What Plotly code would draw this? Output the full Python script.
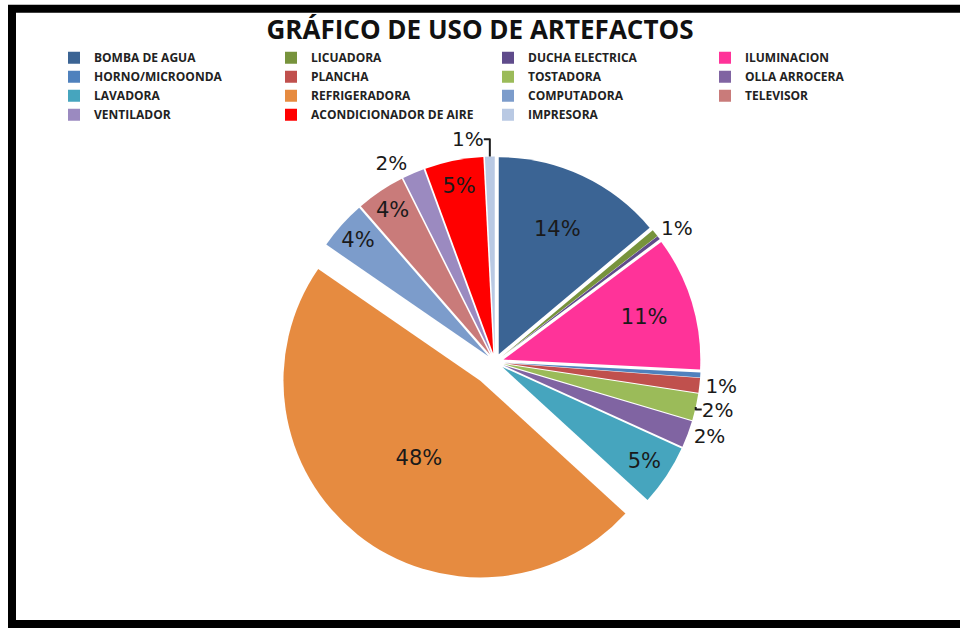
import plotly.graph_objects as go

# Appliance usage shares (percent of total consumption)
artefactos = [
    "BOMBA DE AGUA", "LICUADORA", "DUCHA ELECTRICA", "ILUMINACION",
    "HORNO/MICROONDA", "PLANCHA", "TOSTADORA", "OLLA ARROCERA",
    "LAVADORA", "REFRIGERADORA", "COMPUTADORA", "TELEVISOR",
    "VENTILADOR", "ACONDICIONADOR DE AIRE", "IMPRESORA",
]
uso = [13.9, 0.6, 0.3, 11.0, 0.4, 1.2, 2.2, 2.2, 5.0, 47.8, 4.0, 4.0, 1.8, 4.8, 0.8]

colores = [
    "#3B6494", "#77933C", "#5F4B8B", "#FF3399",
    "#4F81BD", "#C0504D", "#9BBB59", "#8064A2",
    "#46A5BE", "#E68B40", "#7C9CCB", "#C97B7A",
    "#9B8AC0", "#FF0000", "#B9C9E3",
]

# Slices that keep their label inside the wedge
dentro = {"BOMBA DE AGUA", "ILUMINACION", "LAVADORA", "REFRIGERADORA",
          "COMPUTADORA", "TELEVISOR", "ACONDICIONADOR DE AIRE"}

total = sum(uso)
etiquetas = []
posiciones = []
for nombre, v in zip(artefactos, uso):
    pct = round(v / total * 100)
    etiquetas.append(f"{pct}%" if pct >= 1 else "")
    posiciones.append("inside" if nombre in dentro else "outside")

separacion = [0.12 if n == "REFRIGERADORA" else 0.045 for n in artefactos]

W, H = 960, 630

fig = go.Figure(go.Pie(
    labels=artefactos,
    values=uso,
    text=etiquetas,
    textinfo="text",
    textposition=posiciones,
    insidetextorientation="horizontal",
    sort=False,
    direction="clockwise",
    rotation=0,
    pull=separacion,
    marker=dict(colors=colores, line=dict(width=0)),
    textfont=dict(family="DejaVu Sans", size=21, color="#1a1a1a"),
    outsidetextfont=dict(family="DejaVu Sans", size=20, color="#1a1a1a"),
    domain=dict(x=[200 / W, 790 / W], y=[1 - 592 / H, 1 - 144 / H]),
))

fig.update_layout(
    width=W, height=H,
    margin=dict(l=0, r=0, t=0, b=0),
    paper_bgcolor="white",
    showlegend=True,
    title=dict(
        text="<b>GRÁFICO DE USO DE ARTEFACTOS</b>",
        x=0.5, xanchor="center", y=1 - 30 / H, yanchor="middle",
        font=dict(family="Open Sans", size=26, color="#111111"),
    ),
    legend=dict(
        orientation="h",
        x=54 / W, xanchor="left",
        y=1 - 44 / H, yanchor="top",
        bgcolor="rgba(0,0,0,0)",
        entrywidth=172, entrywidthmode="pixels",
        font=dict(family="Open Sans", size=12, color="#222222", weight="bold"),
        traceorder="normal",
        itemclick=False,
    ),
    shapes=[dict(
        type="rect", xref="paper", yref="paper",
        x0=12 / W, x1=1.02, y0=1 - 634 / H, y1=1 - 9 / H,
        line=dict(color="black", width=8),
    )],
)

fig.write_html("out.html")
